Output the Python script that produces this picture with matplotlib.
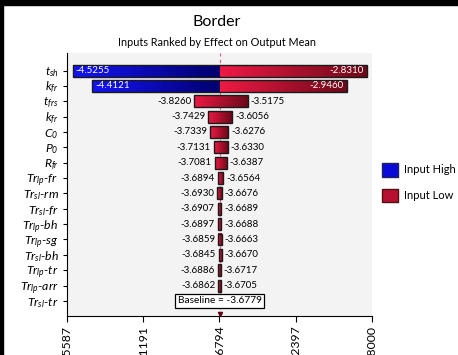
import numpy as np
import matplotlib
matplotlib.use('Agg')
import matplotlib.pyplot as plt
from matplotlib.colors import LinearSegmentedColormap
from matplotlib.patches import Patch

plt.rcParams['font.family'] = ['Lato', 'DejaVu Sans']
plt.rcParams['mathtext.fontset'] = 'custom'
plt.rcParams['mathtext.it'] = 'Lato:italic'
plt.rcParams['mathtext.rm'] = 'Lato:italic'

labels = [r'$t_{sh}$', r'$k_{fr}$', r'$t_{frs}$', r'$k_{fr}$', r'$C_0$', r'$P_0$', r'$R_{fr}$',
          r'$Tr_{lp}$-$fr$', r'$Tr_{sl}$-$rm$', r'$Tr_{sl}$-$fr$', r'$Tr_{lp}$-$bh$',
          r'$Tr_{lp}$-$sg$', r'$Tr_{sl}$-$bh$', r'$Tr_{lp}$-$tr$', r'$Tr_{lp}$-$arr$', r'$Tr_{sl}$-$tr$']
left_vals = [-4.5255, -4.4121, -3.8260, -3.7429, -3.7339, -3.7131, -3.7081,
             -3.6894, -3.6930, -3.6907, -3.6897, -3.6859, -3.6845, -3.6886, -3.6862]
right_vals = [-2.8310, -2.9460, -3.5175, -3.6056, -3.6276, -3.6330, -3.6387,
              -3.6564, -3.6676, -3.6689, -3.6688, -3.6663, -3.6670, -3.6717, -3.6705]
left_high = [True, True] + [False] * 13   # blue (input high) on the left for the top two
baseline = -3.6779
xticks = [-4.5587, -4.1191, -3.6794, -3.2397, -2.8000]

blue_cm = LinearSegmentedColormap.from_list('b', ['#1414f5', '#00006e'])
red_cm = LinearSegmentedColormap.from_list('r', ['#ee1a44', '#6c0818'])
grad = np.linspace(0, 1, 256).reshape(1, -1)

fig = plt.figure(figsize=(4.58, 3.55), dpi=100)
fig.patches.append(plt.Rectangle((0, 1 - 5 / 355), 1, 5 / 355, transform=fig.transFigure, color='black'))
fig.patches.append(plt.Rectangle((0, 0), 3 / 458, 1, transform=fig.transFigure, color='black'))
ax = fig.add_axes([67 / 458, 39 / 355, 305 / 458, 263 / 355])
ax.set_facecolor('#f3f3f3')

h = 0.78
ys = np.arange(len(left_vals))
for i in ys:
    l, r = left_vals[i], right_vals[i]
    if left_high[i]:
        ax.imshow(grad, cmap=blue_cm, aspect='auto', extent=[l, baseline, i + h / 2, i - h / 2], zorder=2)
        ax.imshow(grad, cmap=red_cm, aspect='auto', extent=[baseline, r, i + h / 2, i - h / 2], zorder=2)
        ax.annotate(f'{l:.4f}', (l, i), xytext=(2, 0), textcoords='offset points',
                    ha='left', va='center', color='white', fontsize=7, zorder=4)
        ax.annotate(f'{r:.4f}', (r, i), xytext=(-2, 0), textcoords='offset points',
                    ha='right', va='center', color='white', fontsize=7, zorder=4)
    else:
        ax.imshow(grad, cmap=red_cm, aspect='auto', extent=[l, r, i + h / 2, i - h / 2], zorder=2)
        ax.annotate(f'{l:.4f}', (l, i), xytext=(-2, 0), textcoords='offset points',
                    ha='right', va='center', color='black', fontsize=7, zorder=4)
        ax.annotate(f'{r:.4f}', (r, i), xytext=(2, 0), textcoords='offset points',
                    ha='left', va='center', color='black', fontsize=7, zorder=4)

widths = np.array(right_vals) - np.array(left_vals)
ax.barh(ys, widths, left=left_vals, height=h, facecolor='none', edgecolor='#1a1a1a', linewidth=1.0, zorder=3)

ax.axvline(baseline, color='#e06080', linestyle=(0, (3, 3)), linewidth=0.8, zorder=1)
ax.plot([baseline], [len(labels) - 1 + 0.85], marker='v', color='#600010', markersize=3, zorder=4, clip_on=False)
ax.text(baseline, len(labels) - 1, f'Baseline = {baseline:.4f}', ha='center', va='center', fontsize=7.3,
        bbox=dict(boxstyle='square,pad=0.25', facecolor='white', edgecolor='black', linewidth=0.9), zorder=5)

ax.set_xlim(xticks[0], xticks[-1])
ax.set_ylim(len(labels) - 1 + 0.98, -1.14)
ax.set_yticks(np.arange(len(labels)))
ax.set_yticklabels(labels, fontsize=8.8, fontstyle='italic')
ax.set_xticks(xticks)
ax.set_xticklabels([f'{v:.4f}' for v in xticks], rotation=90, fontsize=8.8)
ax.tick_params(axis='y', length=3, pad=3)
ax.tick_params(axis='x', length=4, pad=3)
for s in ['top', 'right']:
    ax.spines[s].set_visible(False)

fig.text(217 / 458, 1 - 22 / 355, 'Border', ha='center', va='center', fontsize=11.5)
fig.text(217 / 458, 1 - 42 / 355, 'Inputs Ranked by Effect on Output Mean', ha='center', va='center', fontsize=7.8)

handles = [Patch(facecolor='#0a0ad8', edgecolor='#20205a', label='Input High'),
           Patch(facecolor='#b81030', edgecolor='#501010', label='Input Low')]
fig.legend(handles=handles, loc='upper left', bbox_to_anchor=(372 / 458, 1 - 153 / 355), frameon=False,
           fontsize=8, handlelength=1.4, handleheight=1.5, labelspacing=1.1, handletextpad=0.6)

fig.savefig('out.png', dpi=100)
